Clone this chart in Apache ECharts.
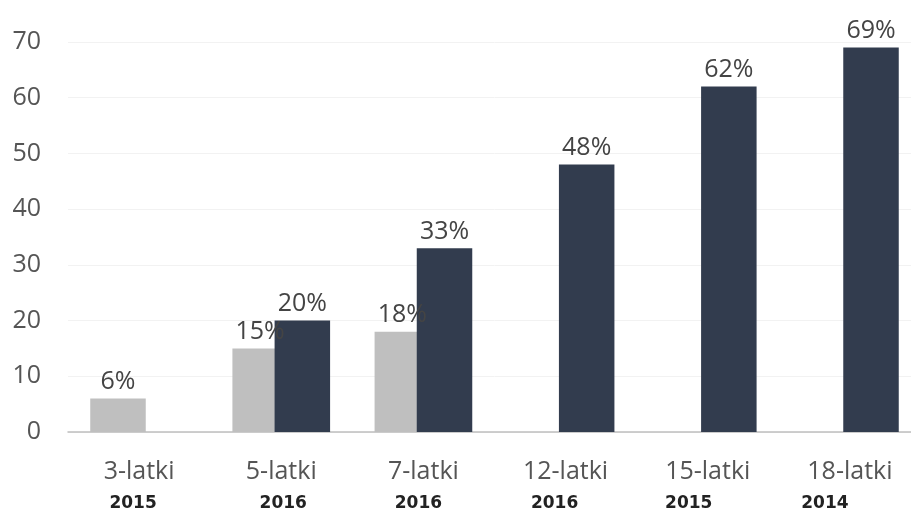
<!DOCTYPE html>
<html>
<head>
<meta charset="utf-8">
<script src="https://cdn.jsdelivr.net/npm/echarts@6/dist/echarts.min.js"></script>
<style>html,body{margin:0;padding:0;background:#fff;overflow:hidden}#c{width:921px;height:509px}</style>
</head>
<body>
<div id="c"></div>
<script>
const categories = ['3-latki', '5-latki', '7-latki', '12-latki', '15-latki', '18-latki'];
const years = ['2015', '2016', '2016', '2016', '2015', '2014'];
const lightValues = [6, 15, 18, null, null, null];
const darkValues = [null, 20, 33, 48, 62, 69];
const yTicks = { min: 0, max: 70, interval: 10 };

// per-category horizontal shift of the year line (style only)
const yearShift = [-6, 2, -5, -11, -19, -25];

const rich = {
  a: { fontFamily: 'Open Sans', fontSize: 25, color: '#555', lineHeight: 32, align: 'center' }
};
yearShift.forEach((d, i) => {
  rich['y' + i] = {
    fontFamily: 'DejaVu Sans', fontWeight: 'bold', fontSize: 17, color: '#222', lineHeight: 32, align: 'center',
    padding: d < 0 ? [0, -2 * d, 0, 0] : [0, 0, 0, 2 * d]
  };
});

const chart = echarts.init(document.getElementById('c'), null, { renderer: 'canvas' });
const labelStyle = {
  show: true, position: 'top', distance: 4,
  fontFamily: 'Open Sans', fontSize: 25, color: '#444',
  formatter: p => p.value == null ? '' : p.value + '%'
};
chart.setOption({
  animation: false,
  backgroundColor: '#fff',
  grid: { left: 68, top: 42, right: 0, height: 390, containLabel: false, outerBoundsMode: 'none' },
  xAxis: {
    type: 'category',
    data: categories,
    axisTick: { show: false },
    axisLine: { lineStyle: { color: '#bfbfbf', width: 1.5 } },
    axisLabel: {
      margin: 24,
      interval: 0,
      formatter: (v, i) => '{a|' + v + '}\n{y' + i + '|' + years[i] + '}',
      rich: rich
    }
  },
  yAxis: {
    type: 'value',
    min: yTicks.min, max: yTicks.max, interval: yTicks.interval,
    axisLine: { show: false },
    axisTick: { show: false },
    splitLine: { lineStyle: { color: '#f2f2f2', width: 1 } },
    axisLabel: { margin: 27, fontFamily: 'Open Sans', fontSize: 25, color: '#555' }
  },
  series: [
    {
      type: 'bar', data: lightValues, barWidth: 55.5, barGap: '-24%',
      itemStyle: { color: '#bfbfbf' }, label: labelStyle
    },
    {
      type: 'bar', data: darkValues, barWidth: 55.5, barGap: '-24%',
      itemStyle: { color: '#323c4e' }, label: labelStyle
    }
  ]
});
</script>
</body>
</html>
